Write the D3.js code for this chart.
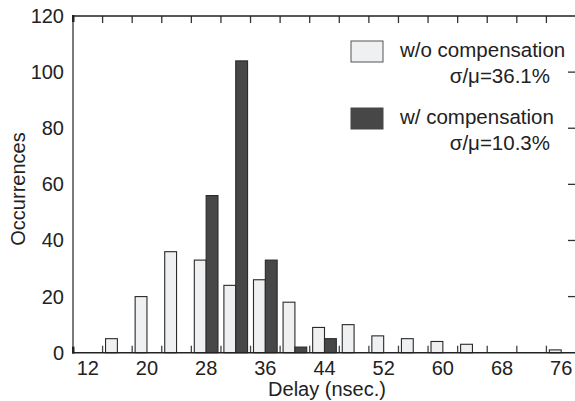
<!DOCTYPE html>
<html><head><meta charset="utf-8">
<script src="https://cdn.jsdelivr.net/npm/d3@7"></script>
<style>body{margin:0;background:#fff}svg{display:block;font-family:"Liberation Sans",Arial,sans-serif}</style>
</head><body><svg id="c" width="575" height="401"></svg>
<script>
const binCenters = [12,16,20,24,28,32,36,40,44,48,52,56,60,64,68,72,76];
const woComp = [0,5,20,36,33,24,26,18,9,10,6,5,4,3,0,0,1];
const wComp  = [0,0,0,0,56,104,33,2,5,0,0,0,0,0,0,0,0];
const xTickLabels = [12,20,28,36,44,52,60,68,76];
const yTicks = [0,20,40,60,80,100,120];
const legendItems = [
  {name:"w/o compensation", stat:"σ/μ=36.1%"},
  {name:"w/ compensation", stat:"σ/μ=10.3%"}
];
const colors = ["#eff0f2","#474747"];

const svg = d3.select("#c");
const L=73, R=576, T=16, B=352.7;
const x = d3.scaleLinear().domain([10,78]).range([L,R]);
const y = d3.scaleLinear().domain([0,120]).range([B,T]);
const binW = 4, barW = 1.6;

// bars
const series = [woComp, wComp];
series.forEach((vals, si) => {
  svg.append("g").selectAll("rect").data(binCenters.map((c,i)=>({c, v: vals[i]})).filter(d=>d.v>0))
    .join("rect")
    .attr("x", d => si===0 ? x(d.c - barW) : x(d.c))
    .attr("width", x(barW) - x(0))
    .attr("y", d => y(d.v))
    .attr("height", d => y(0) - y(d.v))
    .attr("fill", colors[si])
    .attr("stroke", si===0 ? "#2a2a2a" : "#2a2a2a")
    .attr("stroke-width", 1.1);
});

// bin edges
const edges = d3.range(14, 78, binW);
// bottom inner ticks
svg.append("g").selectAll("line").data(edges).join("line")
  .attr("x1", d=>x(d)).attr("x2", d=>x(d)).attr("y1", B).attr("y2", B-7)
  .attr("stroke", "#444").attr("stroke-width", 1.3);
// top inner ticks
svg.append("g").selectAll("line").data(edges).join("line")
  .attr("x1", d=>x(d)).attr("x2", d=>x(d)).attr("y1", T).attr("y2", T+7)
  .attr("stroke", "#333").attr("stroke-width", 1.3);
// right inner ticks
svg.append("g").selectAll("line").data(yTicks.filter(v=>v>0 && v<120)).join("line")
  .attr("x1", 575).attr("x2", 568).attr("y1", d=>y(d)).attr("y2", d=>y(d))
  .attr("stroke", "#333").attr("stroke-width", 1.3);

// frame lines
svg.append("line").attr("x1", L).attr("x2", 575).attr("y1", T).attr("y2", T).attr("stroke", "#222").attr("stroke-width", 1.4);
svg.append("line").attr("x1", L).attr("x2", 575).attr("y1", B).attr("y2", B).attr("stroke", "#222").attr("stroke-width", 1.6);
svg.append("line").attr("x1", L).attr("x2", L).attr("y1", T).attr("y2", B).attr("stroke", "#7a7a7a").attr("stroke-width", 2);
svg.append("rect").attr("x", L-1).attr("y", T-1).attr("width", 2.5).attr("height", 7).attr("fill", "#222");
svg.append("rect").attr("x", L-1).attr("y", B-6).attr("width", 2.5).attr("height", 7).attr("fill", "#222");

// y tick labels
svg.append("g").selectAll("text").data(yTicks).join("text")
  .attr("x", 64).attr("y", d=>y(d)+7).attr("text-anchor","end")
  .attr("font-size", 20).attr("fill", "#222").text(d=>d);
// x tick labels
svg.append("g").selectAll("text").data(xTickLabels).join("text")
  .attr("x", d=>x(d)).attr("y", 375).attr("text-anchor","middle")
  .attr("font-size", 20).attr("fill", "#222").text(d=>d);

// axis titles
svg.append("text").attr("x", 327).attr("y", 396).attr("text-anchor","middle")
  .attr("font-size", 20).attr("fill", "#222").text("Delay (nsec.)");
svg.append("text").attr("transform", "translate(24.5,189) rotate(-90)").attr("text-anchor","middle")
  .attr("font-size", 20).attr("fill", "#222").text("Occurrences");

// legend
const lg = svg.append("g");
legendItems.forEach((it, i) => {
  const oy = i*67;
  lg.append("rect").attr("x", 351).attr("y", 41 + oy).attr("width", 32).attr("height", 21)
    .attr("fill", colors[i]).attr("stroke", i===0 ? "#555" : colors[i]).attr("stroke-width", 1);
  lg.append("text").attr("x", 400).attr("y", 57 + oy).attr("font-size", 20.5).attr("fill", "#222").text(it.name);
  lg.append("text").attr("x", 550).attr("y", 82.5 + oy).attr("text-anchor","end").attr("font-size", 20.5).attr("fill", "#222").text(it.stat);
});
</script></body></html>
